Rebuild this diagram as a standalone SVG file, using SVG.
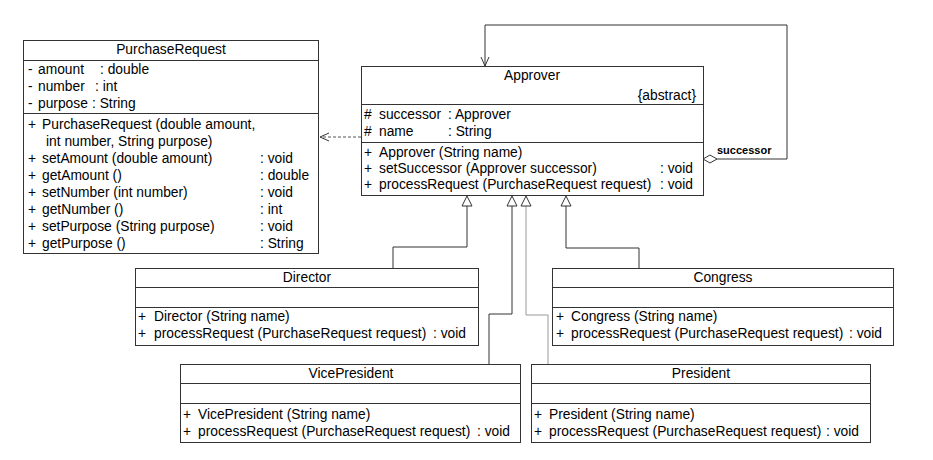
<svg xmlns="http://www.w3.org/2000/svg" width="933" height="460" viewBox="0 0 933 460">
<style>
  text { font-family: "Liberation Sans", Arial, sans-serif; font-size: 13.8px; fill: #000; }
  .c { text-anchor: middle; }
  .e { text-anchor: end; }
  .box { fill: #fff; stroke: #333; stroke-width: 1; }
  .sep { stroke: #333; stroke-width: 1; }
  .ln { fill: none; stroke: #333; stroke-width: 1; }
  .ln2 { fill: none; stroke: #999; stroke-width: 1; }
  .dash { fill: none; stroke: #555; stroke-width: 1; stroke-dasharray: 3 2; }
  .tri { fill: #fff; stroke: #333; stroke-width: 1; }
  .lbl { font-size: 11px; font-weight: bold; }
</style>
<rect width="933" height="460" fill="#fff"/>

<g id="connectors">
  <!-- dependency Approver -> PurchaseRequest -->
  <line class="dash" x1="361" y1="137" x2="321" y2="137"/>
  <polyline class="ln" points="329,133 320,137 329,141"/>
  <!-- self association -->
  <polyline class="ln" points="717,159 787,159 787,25 485,25 485,66"/>
  <polyline class="ln" points="481,57 485,66 489,57"/>
  <polygon class="tri" points="703,159 710,155 717,159 710,163"/>
  <text class="lbl" x="717" y="154">successor</text>
  <!-- generalizations -->
  <polyline class="ln" points="467,206 467,247 393,247 393,268"/>
  <polygon class="tri" points="467,196 462,206 472,206"/>
  <polyline class="ln" points="512,206 512,314 489,314 489,364"/>
  <polygon class="tri" points="512,196 507,206 517,206"/>
  <polyline class="ln2" points="526,206 526,315 548,315 548,364"/>
  <polygon class="tri" points="526,196 521,206 531,206"/>
  <polyline class="ln" points="566,206 566,248 639,248 639,268"/>
  <polygon class="tri" points="566,196 561,206 571,206"/>
</g>

<g id="PurchaseRequest">
  <rect class="box" x="23.5" y="40.5" width="295" height="213"/>
  <line class="sep" x1="23.5" y1="60.5" x2="318.5" y2="60.5"/>
  <line class="sep" x1="23.5" y1="113.5" x2="318.5" y2="113.5"/>
  <text class="c" x="171" y="54">PurchaseRequest</text>
  <text x="28" y="74">-</text><text x="38" y="74">amount</text><text x="100" y="74">: double</text>
  <text x="28" y="91">-</text><text x="38" y="91">number</text><text x="95" y="91">: int</text>
  <text x="28" y="108">-</text><text x="38" y="108">purpose</text><text x="92" y="108">: String</text>
  <text x="28" y="129">+</text><text x="42" y="129">PurchaseRequest (double amount,</text>
  <text x="46" y="146">int number, String purpose)</text>
  <text x="28" y="163">+</text><text x="42" y="163">setAmount (double amount)</text><text x="260" y="163">: void</text>
  <text x="28" y="180">+</text><text x="42" y="180">getAmount ()</text><text x="260" y="180">: double</text>
  <text x="28" y="197">+</text><text x="42" y="197">setNumber (int number)</text><text x="260" y="197">: void</text>
  <text x="28" y="214">+</text><text x="42" y="214">getNumber ()</text><text x="260" y="214">: int</text>
  <text x="28" y="231">+</text><text x="42" y="231">setPurpose (String purpose)</text><text x="260" y="231">: void</text>
  <text x="28" y="248">+</text><text x="42" y="248">getPurpose ()</text><text x="260" y="248">: String</text>
</g>

<g id="Approver">
  <rect class="box" x="361.5" y="66.5" width="342" height="129"/>
  <line class="sep" x1="361.5" y1="104.5" x2="703.5" y2="104.5"/>
  <line class="sep" x1="361.5" y1="142.5" x2="703.5" y2="142.5"/>
  <text class="c" x="532" y="80">Approver</text>
  <text class="e" x="696" y="100">{abstract}</text>
  <text x="364" y="119">#</text><text x="379" y="119">successor</text><text x="448" y="119">: Approver</text>
  <text x="364" y="136">#</text><text x="379" y="136">name</text><text x="448" y="136">: String</text>
  <text x="364" y="157">+</text><text x="379" y="157">Approver (String name)</text>
  <text x="364" y="173">+</text><text x="379" y="173">setSuccessor (Approver successor)</text><text x="660" y="173">: void</text>
  <text x="364" y="189">+</text><text x="379" y="189">processRequest (PurchaseRequest request)</text><text x="660" y="189">: void</text>
</g>

<g id="Director">
  <rect class="box" x="135.5" y="268.5" width="343" height="77"/>
  <line class="sep" x1="135.5" y1="287.5" x2="478.5" y2="287.5"/>
  <line class="sep" x1="135.5" y1="307.5" x2="478.5" y2="307.5"/>
  <text class="c" x="307" y="282">Director</text>
  <text x="138" y="321">+</text><text x="154" y="321">Director (String name)</text>
  <text x="138" y="338">+</text><text x="154" y="338">processRequest (PurchaseRequest request)</text><text x="433" y="338">: void</text>
</g>

<g id="Congress">
  <rect class="box" x="552.5" y="268.5" width="341" height="77"/>
  <line class="sep" x1="552.5" y1="287.5" x2="893.5" y2="287.5"/>
  <line class="sep" x1="552.5" y1="307.5" x2="893.5" y2="307.5"/>
  <text class="c" x="723" y="282">Congress</text>
  <text x="556" y="321">+</text><text x="571" y="321">Congress (String name)</text>
  <text x="556" y="338">+</text><text x="571" y="338">processRequest (PurchaseRequest request)</text><text x="849" y="338">: void</text>
</g>

<g id="VicePresident">
  <rect class="box" x="180.5" y="364.5" width="340" height="78"/>
  <line class="sep" x1="180.5" y1="383.5" x2="520.5" y2="383.5"/>
  <line class="sep" x1="180.5" y1="403.5" x2="520.5" y2="403.5"/>
  <text class="c" x="351" y="378">VicePresident</text>
  <text x="183" y="419">+</text><text x="198" y="419">VicePresident (String name)</text>
  <text x="183" y="436">+</text><text x="198" y="436">processRequest (PurchaseRequest request)</text><text x="477" y="436">: void</text>
</g>

<g id="President">
  <rect class="box" x="531.5" y="364.5" width="339" height="78"/>
  <line class="sep" x1="531.5" y1="383.5" x2="870.5" y2="383.5"/>
  <line class="sep" x1="531.5" y1="403.5" x2="870.5" y2="403.5"/>
  <text class="c" x="701" y="378">President</text>
  <text x="534" y="419">+</text><text x="549" y="419">President (String name)</text>
  <text x="534" y="436">+</text><text x="549" y="436">processRequest (PurchaseRequest request)</text><text x="826" y="436">: void</text>
</g>
</svg>
